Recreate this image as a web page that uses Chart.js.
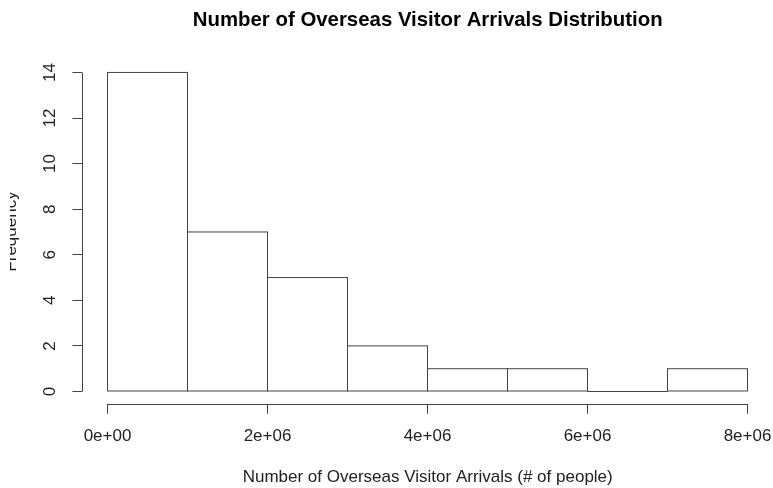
<!DOCTYPE html>
<html>
<head>
<meta charset="utf-8">
<script src="https://cdn.jsdelivr.net/npm/chart.js@4.4.1/dist/chart.umd.min.js"></script>
<style>
  html, body { margin: 0; padding: 0; background: #fff; }
  #wrap { width: 773px; height: 488px; }
</style>
</head>
<body>
<div id="wrap"><canvas id="hist" width="773" height="488"></canvas></div>
<script>
// Histogram bins (break points) and the count of observations in each bin
const binEdges = [0, 1e6, 2e6, 3e6, 4e6, 5e6, 6e6, 7e6, 8e6];
const binCounts = [14, 7, 5, 2, 1, 1, 0, 1];

// Axis tick values
const xTickValues = [0, 2e6, 4e6, 6e6, 8e6];
const yTickValues = [0, 2, 4, 6, 8, 10, 12, 14];

const chartTitle = 'Number of Overseas Visitor Arrivals Distribution';
const xAxisTitle = 'Number of Overseas Visitor Arrivals (# of people)';
const yAxisTitle = 'Frequency';

const FONT = '"Liberation Sans", Arial, Helvetica, sans-serif';
const LINE = '#444';
const INK = '#222';

// One bar per bin, centred on the bin midpoint
const barData = binCounts.map((c, i) => ({ x: (binEdges[i] + binEdges[i + 1]) / 2, y: c }));

// R-style scientific notation: 2e+06
function sci(v) {
  if (v === 0) return '0e+00';
  const e = Math.floor(Math.log10(Math.abs(v)));
  const m = Math.round(v / Math.pow(10, e));
  return m + 'e' + (e < 0 ? '-' : '+') + String(Math.abs(e)).padStart(2, '0');
}

// Outline every bar element as a rectangle (an empty bin becomes a flat line)
const barOutlines = {
  id: 'barOutlines',
  afterDatasetsDraw(chart) {
    const { ctx } = chart;
    const meta = chart.getDatasetMeta(0);
    ctx.save();
    ctx.strokeStyle = LINE;
    ctx.lineWidth = 1;
    meta.data.forEach(bar => {
      const { x, y, base, width } = bar.getProps(['x', 'y', 'base', 'width'], true);
      const left = x - width / 2;
      const top = Math.min(y, base);
      ctx.strokeRect(left, top, width, Math.abs(base - y));
    });
    ctx.restore();
  }
};

// Axis lines spanning only the tick range, and the y title cut at the margin
const axisLines = {
  id: 'axisLines',
  afterDraw(chart) {
    const { ctx, chartArea, scales: { x, y } } = chart;
    ctx.save();
    ctx.strokeStyle = LINE;
    ctx.lineWidth = 1;
    const x0 = x.getPixelForValue(xTickValues[0]);
    const x1 = x.getPixelForValue(xTickValues[xTickValues.length - 1]);
    const yb = Math.round(chartArea.bottom) + 0.5;
    ctx.beginPath();
    ctx.moveTo(x0, yb); ctx.lineTo(x1, yb);
    ctx.stroke();
    const y0 = y.getPixelForValue(yTickValues[0]);
    const y1 = y.getPixelForValue(yTickValues[yTickValues.length - 1]);
    const xl = Math.round(chartArea.left) + 0.5;
    ctx.beginPath();
    ctx.moveTo(xl, y0); ctx.lineTo(xl, y1);
    ctx.stroke();

    ctx.beginPath();
    ctx.rect(10, 0, 80, chart.height);
    ctx.clip();
    ctx.translate(16, (chartArea.top + chartArea.bottom) / 2);
    ctx.rotate(-Math.PI / 2);
    ctx.fillStyle = INK;
    ctx.font = '17px ' + FONT;
    ctx.textAlign = 'center';
    ctx.textBaseline = 'alphabetic';
    ctx.fillText(yAxisTitle, 0, 0);
    ctx.restore();
  }
};

new Chart(document.getElementById('hist'), {
  type: 'bar',
  data: {
    datasets: [{
      data: barData,
      backgroundColor: 'rgba(0,0,0,0)',
      borderWidth: 0,
      inflateAmount: 0,
      barPercentage: 1,
      categoryPercentage: 1
    }]
  },
  options: {
    responsive: false,
    animation: false,
    events: [],
    layout: { padding: 0 },
    plugins: {
      legend: { display: false },
      tooltip: { enabled: false },
      title: {
        display: true,
        text: chartTitle,
        fullSize: false,
        color: '#000',
        font: { family: FONT, size: 20.4, weight: 'bold', lineHeight: 1.2 },
        padding: { top: 8.5, bottom: 26.2 }
      }
    },
    scales: {
      x: {
        type: 'linear',
        offset: false,
        min: -0.31375e6,
        max: 8.31875e6,
        afterBuildTicks: s => { s.ticks = xTickValues.map(v => ({ value: v })); },
        afterFit: s => { s.height = 84.2; s.paddingLeft = 0; s.paddingRight = 0; },
        border: { display: false },
        grid: { display: true, offset: false, drawOnChartArea: false, drawTicks: true, tickLength: 10, color: LINE, lineWidth: 1 },
        ticks: {
          color: INK, padding: 12.2, maxRotation: 0, autoSkip: false,
          font: { family: FONT, size: 17 },
          callback: v => sci(v)
        },
        title: {
          display: true, text: xAxisTitle, color: INK,
          font: { family: FONT, size: 17 },
          padding: { top: 0, bottom: 0 }
        }
      },
      y: {
        type: 'linear',
        min: -0.5398,
        max: 14.582,
        afterBuildTicks: s => { s.ticks = yTickValues.map(v => ({ value: v })); },
        afterFit: s => { s.width = 82.4; s.paddingTop = 0; s.paddingBottom = 0; },
        border: { display: false },
        grid: { display: true, drawOnChartArea: false, drawTicks: true, tickLength: 10, color: LINE, lineWidth: 1 },
        ticks: {
          color: INK, padding: 13, minRotation: 90, maxRotation: 90,
          crossAlign: 'center', autoSkip: false,
          font: { family: FONT, size: 17 },
          callback: v => String(v)
        }
      }
    }
  },
  plugins: [barOutlines, axisLines]
});
</script>
</body>
</html>
